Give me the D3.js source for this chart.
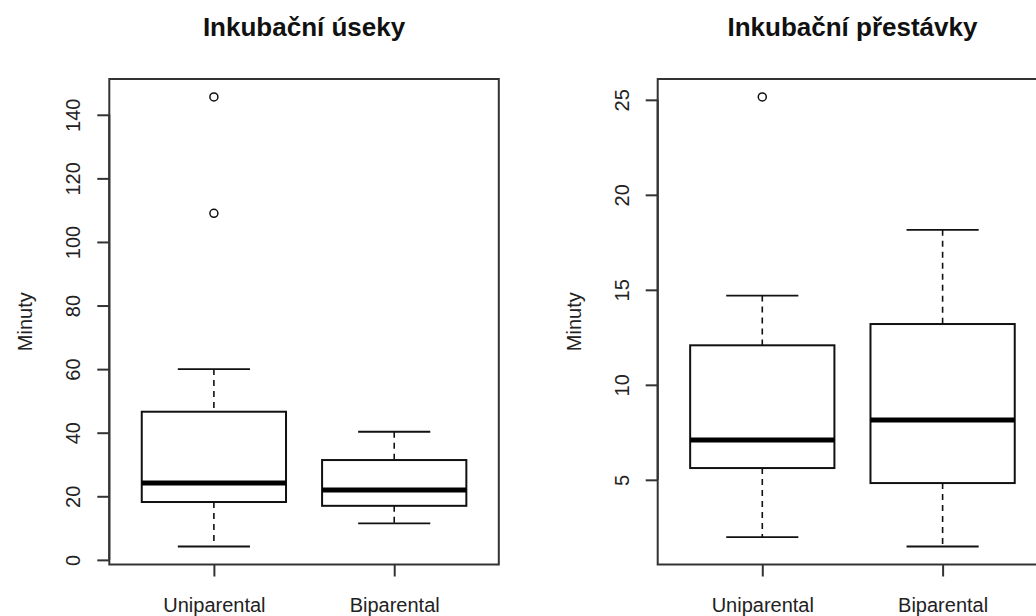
<!DOCTYPE html>
<html>
<head>
<meta charset="utf-8">
<script src="https://cdn.jsdelivr.net/npm/d3@7"></script>
<style>
  body { margin: 0; background: #fff; }
  svg { display: block; font-family: "Liberation Sans", Arial, sans-serif; }
</style>
</head>
<body>
<svg id="chart" width="1036" height="616"></svg>
<script>
// Box plot statistics
const groups = ["Uniparental", "Biparental"];

// Inkubační úseky
const usekyLow = [4.2, 11.5];
const usekyQ1 = [18.2, 17.0];
const usekyMedian = [24.2, 22.0];
const usekyQ3 = [46.6, 31.4];
const usekyHigh = [60, 40.3];
const usekyOutliers = [[145.6, 109.0], []];
const usekyTicks = [0, 20, 40, 60, 80, 100, 120, 140];

// Inkubační přestávky
const prestavkyLow = [1.98, 1.49];
const prestavkyQ1 = [5.62, 4.83];
const prestavkyMedian = [7.1, 8.15];
const prestavkyQ3 = [12.08, 13.2];
const prestavkyHigh = [14.7, 18.16];
const prestavkyOutliers = [[25.15], []];
const prestavkyTicks = [5, 10, 15, 20, 25];

const svg = d3.select("#chart");
const plotTop = 79, plotBottom = 564.5;
const plotWidth = 389.5;

function drawPanel(left, title, low, q1, med, q3, high, outliers, ticks) {
  const right = left + plotWidth;
  const g = svg.append("g");

  // R-style 4% axis expansion
  const all = low.concat(high, outliers.flat());
  const lo = d3.min(all), hi = d3.max(all);
  const pad = (hi - lo) * 0.04;
  const y = d3.scaleLinear().domain([lo - pad, hi + pad]).range([plotBottom, plotTop]);
  const x = d3.scaleLinear().domain([0.42, 2.58]).range([left, right]);

  const boxes = groups.map((name, i) => ({
    name, pos: i + 1,
    low: low[i], q1: q1[i], med: med[i], q3: q3[i], high: high[i],
    out: outliers[i]
  }));

  // whiskers
  g.append("g")
    .attr("stroke", "#111")
    .attr("stroke-width", 1.6)
    .attr("stroke-dasharray", "6,5")
    .selectAll("path")
    .data(boxes)
    .join("path")
    .attr("d", (d) => `M${x(d.pos)},${y(d.high)}V${y(d.q3)}M${x(d.pos)},${y(d.q1)}V${y(d.low)}`);

  // staples
  g.append("g")
    .attr("stroke", "#111")
    .attr("stroke-width", 1.8)
    .selectAll("path")
    .data(boxes)
    .join("path")
    .attr("d", (d) =>
      `M${x(d.pos - 0.2)},${y(d.high)}H${x(d.pos + 0.2)}M${x(d.pos - 0.2)},${y(d.low)}H${x(d.pos + 0.2)}`);

  // boxes
  g.append("g")
    .selectAll("rect")
    .data(boxes)
    .join("rect")
    .attr("x", (d) => x(d.pos - 0.4))
    .attr("y", (d) => y(d.q3))
    .attr("width", (d) => x(d.pos + 0.4) - x(d.pos - 0.4))
    .attr("height", (d) => y(d.q1) - y(d.q3))
    .attr("fill", "#fff")
    .attr("stroke", "#111")
    .attr("stroke-width", 2);

  // medians
  g.append("g")
    .attr("stroke", "#000")
    .attr("stroke-width", 5)
    .selectAll("line")
    .data(boxes)
    .join("line")
    .attr("x1", (d) => x(d.pos - 0.4))
    .attr("x2", (d) => x(d.pos + 0.4))
    .attr("y1", (d) => y(d.med))
    .attr("y2", (d) => y(d.med));

  // outliers
  g.append("g")
    .attr("fill", "none")
    .attr("stroke", "#111")
    .attr("stroke-width", 1.5)
    .selectAll("circle")
    .data(boxes.flatMap((d) => d.out.map((v) => ({ pos: d.pos, v }))))
    .join("circle")
    .attr("cx", (d) => x(d.pos))
    .attr("cy", (d) => y(d.v))
    .attr("r", 4);

  // frame
  g.append("rect")
    .attr("x", left)
    .attr("y", plotTop)
    .attr("width", plotWidth)
    .attr("height", plotBottom - plotTop)
    .attr("fill", "none")
    .attr("stroke", "#333")
    .attr("stroke-width", 2);

  // y axis with rotated labels
  const yAxis = g.append("g")
    .attr("transform", `translate(${left},0)`)
    .call(d3.axisLeft(y).tickValues(ticks).tickSize(12).tickSizeOuter(0));
  yAxis.select(".domain").remove();
  yAxis.selectAll(".tick line").attr("stroke", "#333").attr("stroke-width", 2);
  yAxis.selectAll(".tick text")
    .attr("x", 0)
    .attr("y", -29)
    .attr("dy", 0)
    .attr("text-anchor", "middle")
    .attr("transform", "rotate(-90)")
    .attr("font-size", 20)
    .attr("font-family", null)
    .attr("fill", "#222");
  g.append("line")
    .attr("x1", left).attr("x2", left)
    .attr("y1", y(d3.min(ticks))).attr("y2", y(d3.max(ticks)))
    .attr("stroke", "#333").attr("stroke-width", 2);

  // x axis
  const xAxis = g.append("g")
    .attr("transform", `translate(0,${plotBottom})`)
    .call(d3.axisBottom(x).tickValues([1, 2]).tickSize(12).tickSizeOuter(0)
      .tickFormat((d) => groups[d - 1]));
  xAxis.select(".domain").remove();
  xAxis.selectAll(".tick line").attr("stroke", "#333").attr("stroke-width", 2);
  xAxis.selectAll(".tick text")
    .attr("y", 47)
    .attr("dy", 0)
    .attr("font-size", 20)
    .attr("font-family", null)
    .attr("fill", "#222");

  // y axis title
  g.append("text")
    .attr("transform", `translate(${left - 77},${(plotTop + plotBottom) / 2}) rotate(-90)`)
    .attr("text-anchor", "middle")
    .attr("font-size", 20)
    .attr("fill", "#222")
    .text("Minuty");

  // panel title
  g.append("text")
    .attr("x", (left + right) / 2)
    .attr("y", 36)
    .attr("text-anchor", "middle")
    .attr("font-size", 26)
    .attr("font-weight", "bold")
    .attr("fill", "#111")
    .text(title);
}

drawPanel(109.3, "Inkubační úseky", usekyLow, usekyQ1, usekyMedian, usekyQ3, usekyHigh, usekyOutliers, usekyTicks);
drawPanel(657.7, "Inkubační přestávky", prestavkyLow, prestavkyQ1, prestavkyMedian, prestavkyQ3, prestavkyHigh, prestavkyOutliers, prestavkyTicks);
</script>
</body>
</html>
